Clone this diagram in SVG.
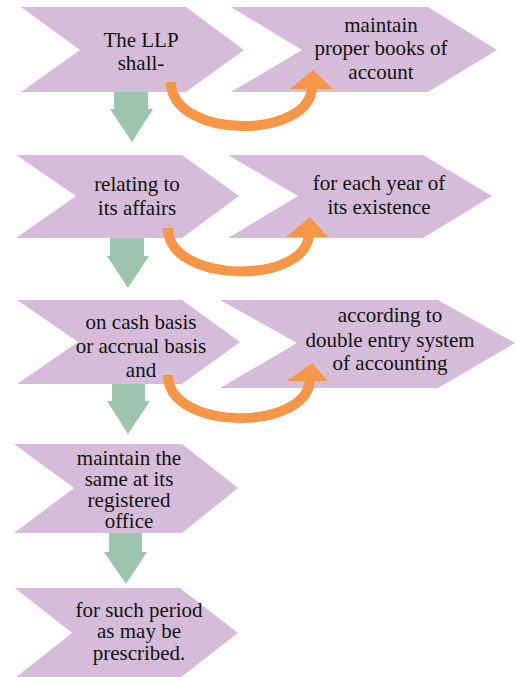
<svg xmlns="http://www.w3.org/2000/svg" width="517" height="677" viewBox="0 0 517 677">
  <style>
    .chev { fill: #D5BDD9; }
    .down { fill: #9DC5AE; }
    .curve { fill: none; stroke: #F79646; stroke-width: 10; }
    .head { fill: #F79646; }
    .lbl { font-family: 'Liberation Serif', 'Times New Roman', 'DejaVu Serif', serif; font-size: 21px; fill: #111; text-anchor: middle; }
  </style>
  <rect width="517" height="677" fill="#fff"/>

  <!-- chevron steps -->
  <g id="n1">
    <polygon class="chev" points="21,7 186,7 244,50 186,92 21,92 80,50"/>
    <text class="lbl" x="141" y="47">The LLP</text>
    <text class="lbl" x="141" y="70">shall-</text>
  </g>
  <g id="n2">
    <polygon class="chev" points="231,7 428,7 497,50 428,92 231,92 302,50"/>
    <text class="lbl" x="381" y="32">maintain</text>
    <text class="lbl" x="381" y="55">proper books of</text>
    <text class="lbl" x="381" y="79">account</text>
  </g>
  <g id="n3">
    <polygon class="chev" points="16,155 182,155 239,196 182,238 16,238 76,196"/>
    <text class="lbl" x="137" y="191">relating to</text>
    <text class="lbl" x="137" y="215">its affairs</text>
  </g>
  <g id="n4">
    <polygon class="chev" points="228,155 423,155 492,196 423,238 228,238 298,196"/>
    <text class="lbl" x="379" y="190">for each year of</text>
    <text class="lbl" x="379" y="214">its existence</text>
  </g>
  <g id="n5">
    <polygon class="chev" points="17,300 182,300 240,342 182,384 17,384 78,342"/>
    <text class="lbl" x="141" y="329">on cash basis</text>
    <text class="lbl" x="141" y="353">or accrual basis</text>
    <text class="lbl" x="141" y="377">and</text>
  </g>
  <g id="n6">
    <polygon class="chev" points="220,300 438,300 515,343 438,388 220,388 297,343"/>
    <text class="lbl" x="390" y="322">according to</text>
    <text class="lbl" x="390" y="347">double entry system</text>
    <text class="lbl" x="390" y="370">of accounting</text>
  </g>
  <g id="n7">
    <polygon class="chev" points="14,444 182,444 238,488 182,533 14,533 74,488"/>
    <text class="lbl" x="129" y="465">maintain the</text>
    <text class="lbl" x="129" y="486">same at its</text>
    <text class="lbl" x="129" y="507">registered</text>
    <text class="lbl" x="129" y="528">office</text>
  </g>
  <g id="n8">
    <polygon class="chev" points="15,588 180,588 238,633 180,678 15,678 72,633"/>
    <text class="lbl" x="139" y="617">for such period</text>
    <text class="lbl" x="139" y="638">as may be</text>
    <text class="lbl" x="139" y="660">prescribed.</text>
  </g>

  <!-- connectors -->
  <g id="connectors">
    <!-- downward block arrows -->
    <polygon class="down" points="114,92 148,92 148,109 153,109 132,142 110,109 114,109"/>
    <polygon class="down" points="110,238 144,238 144,256 149,256 128,288 107,256 110,256"/>
    <polygon class="down" points="112,384 145,384 145,401 150,401 128,434 107,401 112,401"/>
    <polygon class="down" points="109,533 142,533 142,552 147,552 126,584 104,552 109,552"/>

    <!-- curved arrows to the right-hand steps -->
    <path class="curve" d="M171,82 C171,140 312,140 312,86"/>
    <polygon class="head" points="290,89 333,89 313,70"/>

    <path class="curve" d="M168,228 C168,285 309,285 309,233"/>
    <polygon class="head" points="286,237 328,237 310,217"/>

    <path class="curve" d="M168,375 C168,432 310,432 310,378"/>
    <polygon class="head" points="287,381 328,381 312,363"/>
  </g>
</svg>
